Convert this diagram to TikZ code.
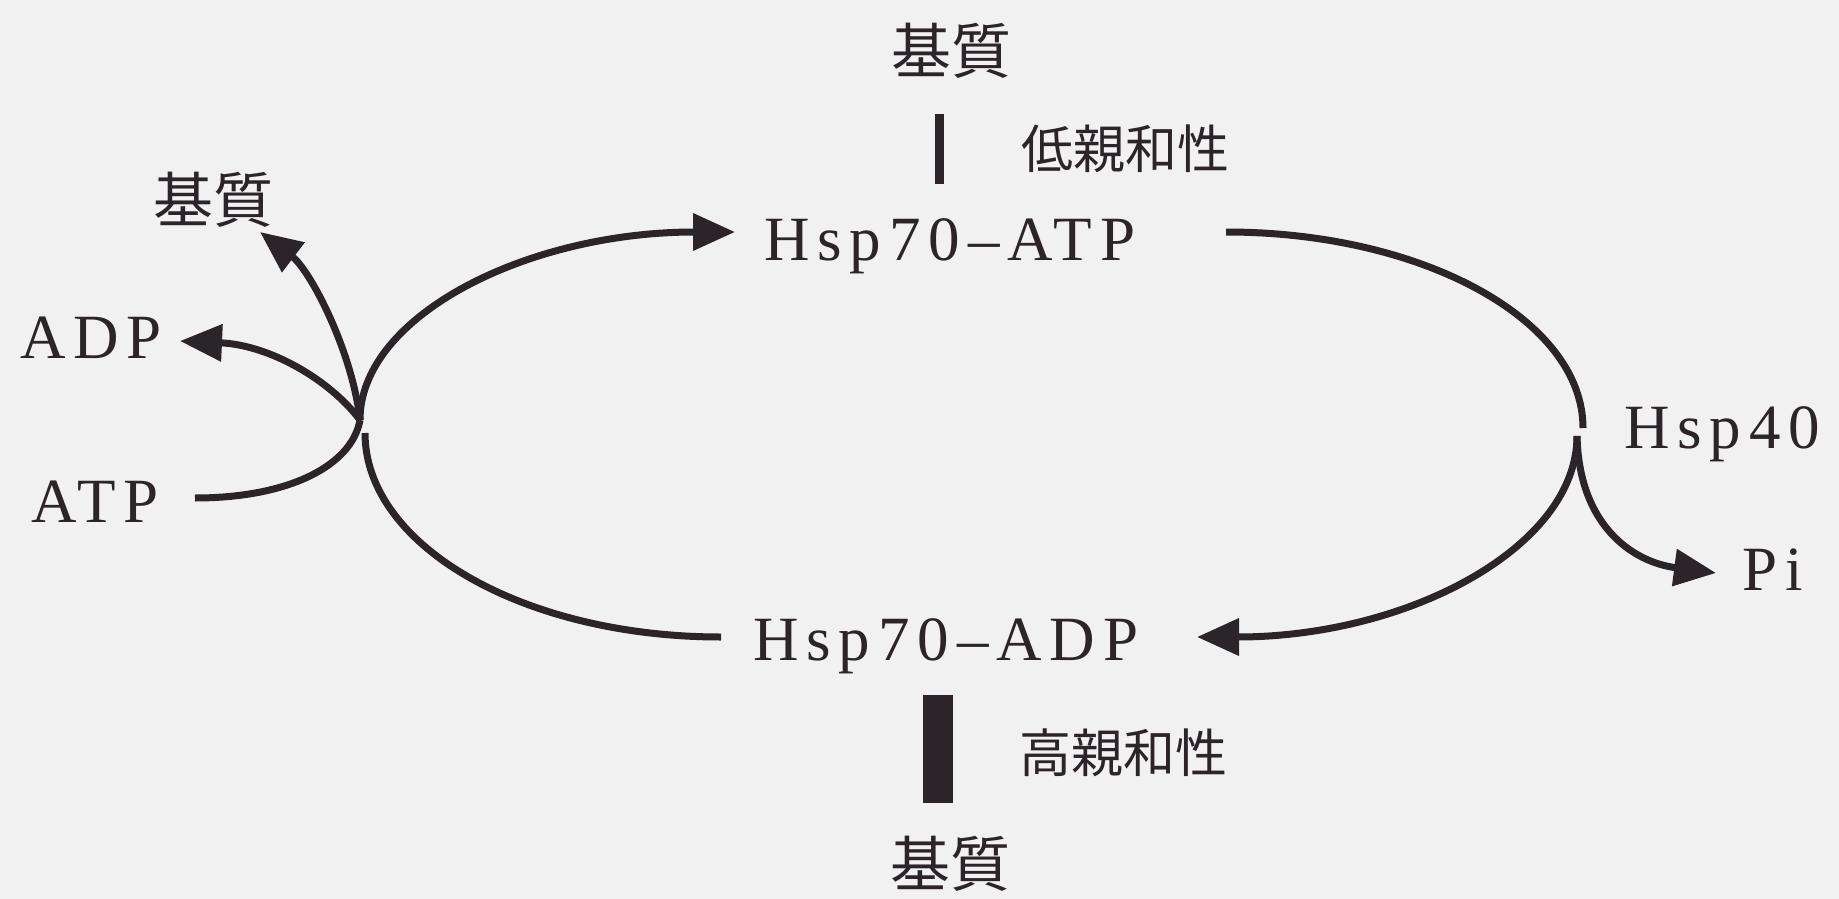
\documentclass[tikz,border=0pt]{standalone}
\usepackage{fontspec}
\setmainfont{Liberation Serif}
\newfontfamily\jp{Noto Sans CJK JP}
\usetikzlibrary{arrows.meta}
\definecolor{ink}{HTML}{2B2428}
\definecolor{bg}{HTML}{F1F1F2}
\begin{document}
\begin{tikzpicture}[x=1pt,y=-1pt,
  lat/.style={inner sep=0pt, anchor=base west, text=ink, font=\fontsize{63}{70}\selectfont\addfontfeature{LetterSpace=12.5}},
  kanji/.style={inner sep=0pt, text=ink, font=\jp\fontsize{60}{70}\selectfont},
  smallk/.style={inner sep=0pt, text=ink, font=\jp\fontsize{52}{60}\selectfont},
  flow/.style={draw=ink, line width=7pt},
  arr/.style={flow, -{Triangle[length=42pt,width=36pt]}},
  bar/.style={draw=ink, line cap=butt},
]
\path[fill=bg, use as bounding box] (0,0) rectangle (1839,899);

% text nodes
\node[lat] (atp70) at (764,260) {Hsp70–ATP};
\node[lat] (adp70) at (753,660) {Hsp70–ADP};
\node[lat] (adp) at (20,358) {ADP};
\node[lat] (atp) at (31,522) {ATP};
\node[lat] (hsp40) at (1624,448) {Hsp40};
\node[lat] (pi) at (1742,590) {Pi};
\node[kanji] (subT) at (951,51) {基質};
\node[kanji] (subL) at (213,200) {基質};
\node[kanji] (subB) at (950,864) {基質};
\node[smallk] (low) at (1125,149) {低親和性};
\node[smallk] (high) at (1123,753) {高親和性};

% connector ends
\coordinate (jL) at (360,420);
\coordinate (jL2) at (365,433);
\coordinate (jR) at (1583,428);
\coordinate (jR2) at (1577,436);
\coordinate (atpIn) at (735,232);
\coordinate (atpOut) at (1226,232);
\coordinate (adpIn) at (1197,637);
\coordinate (adpOut) at (721,637);
\coordinate (piIn) at (1716,573);
\coordinate (atpStart) at (195,498);
\coordinate (adpTip) at (180,341);
\coordinate (subTip) at (260,232);
\coordinate (barT1) at (939,114);
\coordinate (barT2) at (939,184);
\coordinate (barB1) at (938,695);
\coordinate (barB2) at (938,803);

% cycle
\draw[arr] (jL) .. controls (360,316) and (527,232) .. (atpIn);
\draw[flow] (atpOut) .. controls (1423,232) and (1583,320) .. (jR);
\draw[arr] (jR2) .. controls (1577,547) and (1408,637) .. (adpIn);
\draw[arr] (jR2) .. controls (1579,525) and (1632,562) .. (piIn);
\draw[flow] (adpOut) .. controls (524,637) and (365,546) .. (jL2);

% left branch
\draw[flow] (atpStart) .. controls (290,498) and (352,465) .. (jL);
\draw[arr] (jL) .. controls (330,380) and (270,345) .. (adpTip);
\draw[arr] (jL) .. controls (352,350) and (310,270) .. (subTip);

% affinity bars
\draw[bar, line width=9pt] (barT1) -- (barT2);
\draw[bar, line width=30pt] (barB1) -- (barB2);
\end{tikzpicture}
\end{document}
